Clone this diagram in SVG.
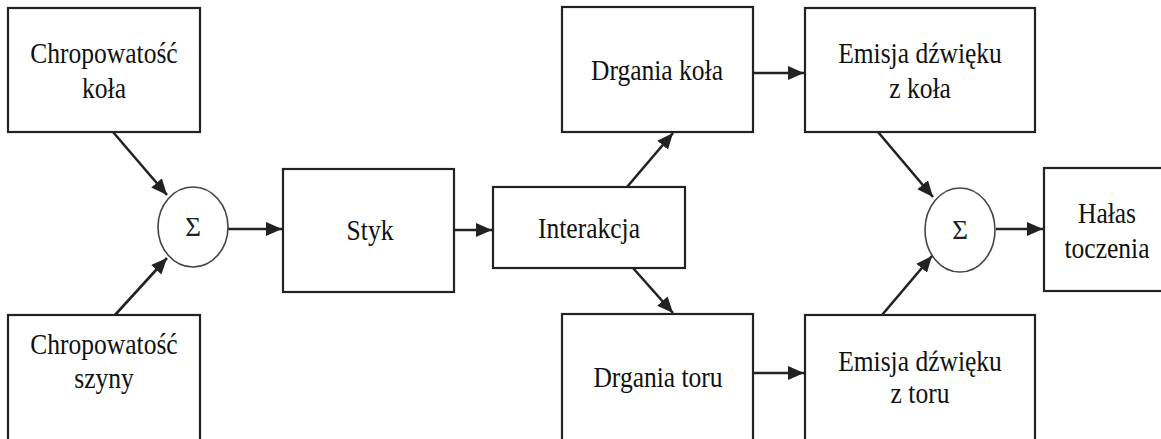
<svg xmlns="http://www.w3.org/2000/svg" width="1161" height="439" viewBox="0 0 1161 439">
<style>
.box{fill:#fff;stroke:#222;stroke-width:2.2}
.sum{fill:#fff;stroke:#444;stroke-width:1.6}
.lbl{font-family:"Liberation Serif","Times New Roman",serif;font-size:29px;fill:#111;text-anchor:middle}
.sig{font-family:"Liberation Serif","Times New Roman",serif;font-size:27px;fill:#222;text-anchor:middle}
.con{stroke:#222;stroke-width:2.6;fill:none;marker-end:url(#ah)}
</style>
<defs>
<marker id="ah" markerUnits="userSpaceOnUse" markerWidth="17" markerHeight="15" refX="16" refY="7" orient="auto">
<path d="M0,0 L16,7 L0,14 z" fill="#222"/>
</marker>
</defs>
<rect width="1161" height="439" fill="#fff"/>
<g id="connectors">
<line class="con" x1="113" y1="132" x2="167" y2="195"/>
<line class="con" x1="115" y1="315" x2="167" y2="258"/>
<line class="con" x1="228" y1="229" x2="282" y2="229"/>
<line class="con" x1="454" y1="230" x2="492" y2="230"/>
<line class="con" x1="627" y1="187" x2="673" y2="133"/>
<line class="con" x1="633" y1="268" x2="673" y2="313"/>
<line class="con" x1="753" y1="73" x2="804" y2="73"/>
<line class="con" x1="753" y1="373" x2="804" y2="373"/>
<line class="con" x1="878" y1="132" x2="933" y2="197"/>
<line class="con" x1="882" y1="315" x2="932" y2="256"/>
<line class="con" x1="996" y1="229" x2="1043" y2="229"/>
</g>
<g id="chrop-kola">
<rect class="box" x="8" y="8" width="192" height="124"/>
<text class="lbl" transform="translate(104 63) scale(0.88 1)">Chropowatość</text>
<text class="lbl" transform="translate(104 98) scale(0.88 1)">koła</text>
</g>
<g id="chrop-szyny">
<rect class="box" x="8" y="315" width="192" height="140"/>
<text class="lbl" transform="translate(104 354) scale(0.88 1)">Chropowatość</text>
<text class="lbl" transform="translate(104 388) scale(0.88 1)">szyny</text>
</g>
<g id="sum1">
<ellipse class="sum" cx="193" cy="227" rx="35" ry="40"/>
<text class="sig" x="193" y="236">Σ</text>
</g>
<g id="styk">
<rect class="box" x="283" y="169" width="171" height="123"/>
<text class="lbl" transform="translate(370 240) scale(0.88 1)">Styk</text>
</g>
<g id="interakcja">
<rect class="box" x="493" y="187" width="192" height="81"/>
<text class="lbl" transform="translate(589 238) scale(0.88 1)">Interakcja</text>
</g>
<g id="drgania-kola">
<rect class="box" x="562" y="7" width="191" height="125"/>
<text class="lbl" transform="translate(657 80) scale(0.88 1)">Drgania koła</text>
</g>
<g id="drgania-toru">
<rect class="box" x="562" y="314" width="191" height="140"/>
<text class="lbl" transform="translate(658 387) scale(0.88 1)">Drgania toru</text>
</g>
<g id="emisja-kola">
<rect class="box" x="805" y="8" width="230" height="124"/>
<text class="lbl" transform="translate(920 63) scale(0.88 1)">Emisja dźwięku</text>
<text class="lbl" transform="translate(920 98) scale(0.88 1)">z koła</text>
</g>
<g id="emisja-toru">
<rect class="box" x="805" y="315" width="230" height="140"/>
<text class="lbl" transform="translate(920 371) scale(0.88 1)">Emisja dźwięku</text>
<text class="lbl" transform="translate(920 403) scale(0.88 1)">z toru</text>
</g>
<g id="sum2">
<ellipse class="sum" cx="960" cy="230" rx="35" ry="42"/>
<text class="sig" x="960" y="239">Σ</text>
</g>
<g id="halas">
<rect class="box" x="1044" y="168" width="130" height="123"/>
<text class="lbl" transform="translate(1107 223) scale(0.88 1)">Hałas</text>
<text class="lbl" transform="translate(1107 258) scale(0.88 1)">toczenia</text>
</g>
</svg>
